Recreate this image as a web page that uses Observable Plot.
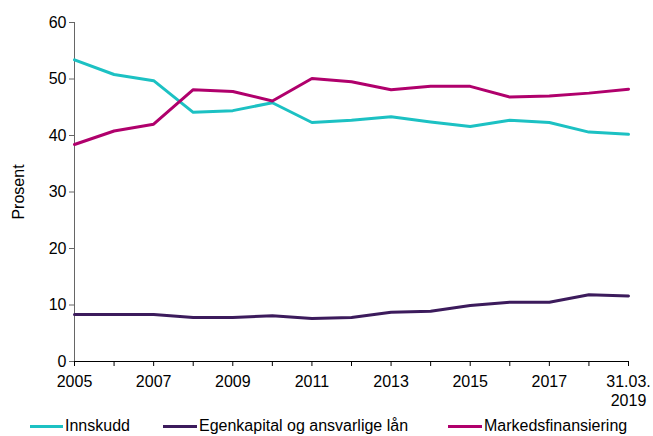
<!DOCTYPE html>
<html>
<head>
<meta charset="utf-8">
<script src="https://cdn.jsdelivr.net/npm/d3@7"></script>
<script src="https://cdn.jsdelivr.net/npm/@observablehq/plot@0.6"></script>
<style>
  body { margin: 0; background: #fff; font-family: "Liberation Sans", Arial, sans-serif; }
  #legend { position: relative; height: 24px; font-size: 16px; color: #000; }
  .item { position: absolute; top: 4px; display: flex; align-items: center; height: 20px; }
  .sw { display: inline-block; height: 3px; margin-right: 2px; }
</style>
</head>
<body>
<div id="chart"></div>
<div id="legend"></div>
<script>
const categories = ["2005","2006","2007","2008","2009","2010","2011","2012","2013","2014","2015","2016","2017","2018","31.03.2019"];
const tickLabels = ["2005","","2007","","2009","","2011","","2013","","2015","","2017","","31.03."];
const tickLabels2 = ["","","","","","","","","","","","","","","2019"];
const seriesNames = ["Innskudd","Egenkapital og ansvarlige lån","Markedsfinansiering"];
const innskudd = [53.4,50.8,49.7,44.1,44.4,45.8,42.3,42.7,43.3,42.4,41.6,42.7,42.3,40.6,40.2];
const egenkapital = [8.3,8.3,8.3,7.8,7.8,8.1,7.6,7.8,8.7,8.9,9.9,10.5,10.5,11.8,11.6];
const markedsfinansiering = [38.4,40.8,42.0,48.1,47.8,46.1,50.1,49.5,48.1,48.7,48.7,46.8,47.0,47.5,48.2];
const colors = ["#1CC1C3","#3C1B5C","#B0006C"];

const seriesValues = [innskudd, egenkapital, markedsfinansiering];
const data = [];
seriesNames.forEach((s, si) => seriesValues[si].forEach((v, i) => data.push({series: s, i, value: v})));
const idx = d3.range(categories.length);

const chart = Plot.plot({
  width: 653,
  height: 412,
  marginLeft: 74,
  marginRight: 25,
  marginTop: 22,
  marginBottom: 51,
  style: {fontFamily: '"Liberation Sans", Arial, sans-serif', fontSize: "16px", color: "#000", background: "#fff"},
  x: {domain: [0, categories.length - 1], type: "linear"},
  y: {domain: [0, 60]},
  color: {domain: seriesNames, range: colors},
  marks: [
    Plot.axisY({ticks: [0,10,20,30,40,50,60], tickSize: 5, tickPadding: 3, label: "Prosent", labelAnchor: "center", labelArrow: "none", labelOffset: 62, fontSize: 16, stroke: "#666"}),
    Plot.axisX({ticks: idx, tickFormat: i => tickLabels[i], tickSize: 5, tickPadding: 9, label: null, fontSize: 16}),
    Plot.axisX({ticks: idx.filter(i => tickLabels2[i]), tickFormat: i => tickLabels2[i], tickSize: 0, tickPadding: 33, label: null, fontSize: 16}),
    Plot.ruleX([0], {stroke: "#666"}),
    Plot.line(data, {x: "i", y: "value", z: "series", stroke: "series", strokeWidth: 3}),
    Plot.ruleY([0], {stroke: "#000"})
  ]
});
document.getElementById("chart").appendChild(chart);

const legend = document.getElementById("legend");
const pos = [[30, 33], [163, 34], [448, 34]];
seriesNames.forEach((s, k) => {
  const it = document.createElement("div");
  it.className = "item";
  it.style.left = pos[k][0] + "px";
  it.innerHTML = `<span class="sw" style="width:${pos[k][1]}px;background:${colors[k]}"></span><span>${s}</span>`;
  legend.appendChild(it);
});
</script>
</body>
</html>
